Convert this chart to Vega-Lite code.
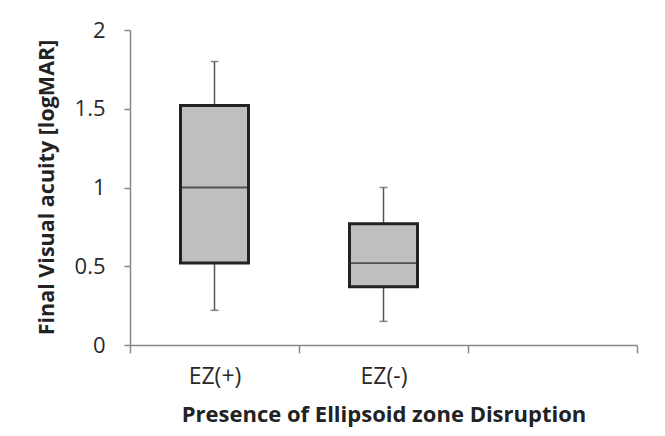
{
  "$schema": "https://vega.github.io/schema/vega-lite/v6.json",
  "autosize": {"type": "none"},
  "width": 507,
  "height": 315,
  "padding": {"left": 130, "top": 30, "right": 28, "bottom": 91},
  "background": "white",
  "config": {
    "view": {"stroke": null},
    "font": "Open Sans"
  },
  "data": {
    "values": [
      {"group": "EZ(+)", "min": 0.22, "q1": 0.52, "median": 1.0, "q3": 1.52, "max": 1.8},
      {"group": "EZ(-)", "min": 0.15, "q1": 0.37, "median": 0.52, "q3": 0.77, "max": 1.0}
    ]
  },
  "encoding": {
    "x": {
      "field": "group",
      "type": "nominal",
      "sort": null,
      "scale": {"domain": ["EZ(+)", "EZ(-)", " "], "paddingInner": 0, "paddingOuter": 0},
      "axis": {
        "title": "Presence of Ellipsoid zone Disruption",
        "titleFont": "Open Sans",
        "titleFontWeight": "bold",
        "titleFontSize": 22,
        "titleColor": "#222222",
        "titleY": 59,
        "labelAngle": 0,
        "labelFont": "Open Sans",
        "labelFontSize": 23,
        "labelColor": "#2a2a2a",
        "labelPadding": 12,
        "tickBand": "extent",
        "tickSize": 8,
        "tickColor": "#888888",
        "tickWidth": 1.5,
        "domainColor": "#888888",
        "domainWidth": 1.5,
        "grid": false
      }
    }
  },
  "layer": [
    {
      "mark": {"type": "rule", "color": "#555555", "strokeWidth": 1.5},
      "encoding": {
        "y": {
          "field": "min",
          "type": "quantitative",
          "scale": {"domain": [0, 2], "nice": false},
          "axis": {
            "title": "Final Visual acuity [logMAR]",
            "titleFont": "Open Sans",
            "titleFontWeight": "bold",
            "titleFontSize": 21.5,
            "titleColor": "#222222",
            "titleX": -72,
            "titleY": 157,
            "values": [0, 0.5, 1, 1.5, 2],
            "format": "~g",
            "labelFont": "Open Sans",
            "labelFontSize": 22,
            "labelColor": "#2a2a2a",
            "labelPadding": 19,
            "labelFlush": false,
            "tickSize": 6,
            "tickColor": "#888888",
            "tickWidth": 1.5,
            "domainColor": "#888888",
            "domainWidth": 1.5,
            "grid": false
          }
        },
        "y2": {"field": "max"}
      }
    },
    {
      "mark": {"type": "tick", "color": "#555555", "size": 8, "thickness": 1.5},
      "encoding": {"y": {"field": "min", "type": "quantitative"}}
    },
    {
      "mark": {"type": "tick", "color": "#555555", "size": 8, "thickness": 1.5},
      "encoding": {"y": {"field": "max", "type": "quantitative"}}
    },
    {
      "mark": {"type": "bar", "size": 68, "fill": "#bfbfbf", "stroke": "#222222", "strokeWidth": 3},
      "encoding": {
        "y": {"field": "q1", "type": "quantitative"},
        "y2": {"field": "q3"}
      }
    },
    {
      "mark": {"type": "tick", "color": "#222222", "size": 68, "thickness": 1.8},
      "encoding": {"y": {"field": "median", "type": "quantitative"}}
    }
  ]
}
